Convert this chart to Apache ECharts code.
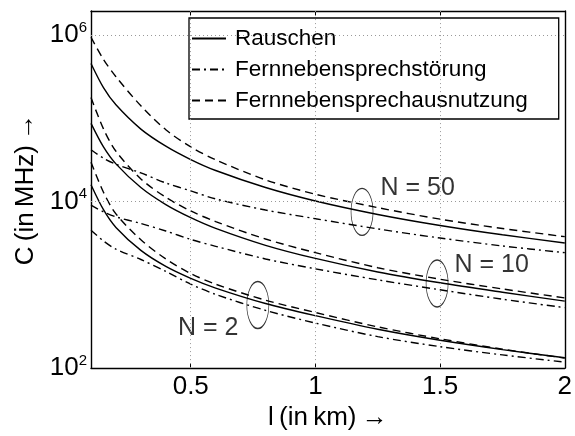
<!DOCTYPE html>
<html><head><meta charset="utf-8">
<script src="https://cdn.jsdelivr.net/npm/echarts@6/dist/echarts.min.js"></script>
<style>html,body{margin:0;padding:0;background:#fff}#c{width:575px;height:436px}</style>
</head><body><div id="c"></div>
<script>
// Leitungslänge l in km
const lengths = [0.1, 0.15, 0.2, 0.3, 0.4, 0.5, 0.6, 0.8, 1.0, 1.25, 1.5, 1.75, 2.0];
// Kapazität C in MHz
const rauschen50     = [459000, 235000, 146000, 74600, 46500, 32100, 23700, 14800, 10200, 7030, 5180, 4000, 3190];
const ausnutzung50   = [948000, 513000, 318000, 142000, 73300, 45600, 31900, 18300, 12300, 8490, 6170, 4760, 3800];
const stoerung50     = [42100, 33300, 28200, 22200, 16800, 13500, 10800, 7940, 6250, 4710, 3660, 2940, 2440];
const rauschen10     = [87500, 45600, 28500, 14800, 9230, 6430, 4780, 2990, 2080, 1430, 1060, 817, 638];
const ausnutzung10   = [179000, 75000, 40400, 18800, 11300, 7740, 5770, 3560, 2440, 1610, 1170, 895, 697];
const stoerung10     = [9100, 7550, 6580, 5470, 4450, 3520, 2910, 2050, 1560, 1150, 873, 673, 533];
const rauschen2      = [16000, 8020, 4910, 2600, 1670, 1200, 916, 597, 427, 293, 216, 167, 133];
const ausnutzung2    = [29900, 13000, 7140, 3490, 2050, 1370, 1020, 655, 466, 313, 225, 169, 132];
const stoerung2      = [4530, 3380, 2690, 2020, 1450, 1020, 769, 494, 348, 239, 181, 144, 118];

const legendNames = ['Rauschen', 'Fernnebensprechstörung', 'Fernnebensprechausnutzung'];
const xTicks = [0.5, 1, 1.5, 2];
const yGrid = [1e4, 1e6];

// Annotationen (Datenkoordinaten)
const markerTexts = ['N = 50', 'N = 10', 'N = 2'];
const markerTextX = [1.259, 1.556, 0.447];
const markerTextY = [14400, 1720, 300];
const ellipseX = [1.187, 1.488, 0.769];
const ellipseY = [7550, 1040, 573];

const FONT = 'Liberation Sans';
const pairs = arr => lengths.map((x, i) => [x, arr[i]]);
const styles = {
  'Rauschen': 'solid',
  'Fernnebensprechstörung': [8, 4, 2, 4],
  'Fernnebensprechausnutzung': [8, 5]
};
function line(name, arr) {
  return {
    type: 'line', name: name, data: pairs(arr), symbol: 'none', smooth: 0.3,
    lineStyle: { color: '#000', width: 1.4, type: styles[name] },
    itemStyle: { color: '#000' }, z: 3
  };
}
const series = [
  line('Rauschen', rauschen50), line('Fernnebensprechstörung', stoerung50), line('Fernnebensprechausnutzung', ausnutzung50),
  line('Rauschen', rauschen10), line('Fernnebensprechstörung', stoerung10), line('Fernnebensprechausnutzung', ausnutzung10),
  line('Rauschen', rauschen2), line('Fernnebensprechstörung', stoerung2), line('Fernnebensprechausnutzung', ausnutzung2)
];
series[0].markLine = {
  silent: true, symbol: 'none', label: { show: false }, animation: false,
  lineStyle: { color: '#999', width: 1, type: [1, 3] },
  data: xTicks.filter(v => v < 2).map(v => ({ xAxis: v })).concat(yGrid.map(v => ({ yAxis: v })))
};
series.push({
  type: 'scatter', name: 'ellipsen', silent: true, z: 4,
  symbol: 'path://M0 50A50 50 0 1 1 100 50A50 50 0 1 1 0 50Z',
  symbolSize: [22, 47],
  itemStyle: { color: 'rgba(0,0,0,0)', borderColor: '#000', borderWidth: 1 },
  data: ellipseX.map((x, i) => [x, ellipseY[i]])
});
series.push({
  type: 'scatter', name: 'texte', silent: true, z: 4, symbolSize: 1,
  itemStyle: { color: 'rgba(0,0,0,0)' },
  label: { show: true, position: 'right', distance: 0, formatter: '{b}', color: '#000', fontFamily: FONT, fontSize: 25 },
  data: markerTexts.map((t, i) => ({ name: t, value: [markerTextX[i], markerTextY[i]] }))
});

const chart = echarts.init(document.getElementById('c'), null, { renderer: 'canvas' });
chart.setOption({
  animation: false,
  backgroundColor: '#fff',
  grid: { left: 91, right: 7, top: 11, bottom: 57 },
  legend: {
    data: legendNames, orient: 'vertical', left: 189, top: 18, selectedMode: false,
    backgroundColor: '#fff', borderColor: '#000', borderWidth: 1.3,
    padding: [9, 31, 7, 2], itemWidth: 34, itemHeight: 12, itemGap: 8,
    itemStyle: { color: 'rgba(0,0,0,0)', borderWidth: 0, opacity: 0 },
    textStyle: { fontFamily: FONT, fontSize: 22.5, color: '#000', lineHeight: 22, padding: [0, 0, 0, 4] }
  },
  xAxis: [{
    type: 'value', min: 0.1, max: 2,
    name: 'l\u2009(in\u2009km)\u2009→', nameLocation: 'middle', nameGap: 21,
    nameTextStyle: { fontFamily: FONT, fontSize: 26, color: '#000' },
    axisLine: { show: true, lineStyle: { color: '#000', width: 1.4 } },
    axisTick: { show: true, inside: true, length: 5, customValues: xTicks, lineStyle: { color: '#000' } },
    axisLabel: { customValues: xTicks, margin: 6, fontFamily: FONT, fontSize: 26, color: '#000', formatter: v => String(v) },
    splitLine: { show: false }
  }, {
    type: 'value', min: 0.1, max: 2, position: 'top',
    axisLine: { show: true, lineStyle: { color: '#000', width: 1.4 } },
    axisTick: { show: true, inside: true, length: 5, customValues: xTicks, lineStyle: { color: '#000' } },
    axisLabel: { show: false, customValues: xTicks },
    splitLine: { show: false }
  }],
  yAxis: [{
    type: 'log', logBase: 10, min: 100, max: 1.96e6,
    name: 'C\u2009(in\u2009MHz)\u2009→', nameLocation: 'middle', nameGap: 52,
    nameTextStyle: { fontFamily: FONT, fontSize: 26, color: '#000' },
    axisLine: { show: true, lineStyle: { color: '#000', width: 1.4 } },
    axisTick: { show: false },
    axisLabel: {
      margin: 4, fontFamily: FONT, color: '#000',
      formatter: v => {
        const e = Math.log10(v);
        const r = Math.round(e);
        if (Math.abs(e - r) > 1e-6 || r % 2 !== 0) return '';
        return '{b|10}{s|' + r + '}';
      },
      rich: {
        b: { fontFamily: FONT, fontSize: 26, color: '#000', lineHeight: 30 },
        s: { fontFamily: FONT, fontSize: 15, color: '#000', verticalAlign: 'top', lineHeight: 15 }
      }
    },
    splitLine: { show: false }
  }, {
    type: 'log', logBase: 10, min: 100, max: 1.96e6, position: 'right',
    axisLine: { show: true, lineStyle: { color: '#000', width: 1.4 } },
    axisTick: { show: false }, axisLabel: { show: false }, splitLine: { show: false }
  }],
  series: series
});
</script></body></html>
